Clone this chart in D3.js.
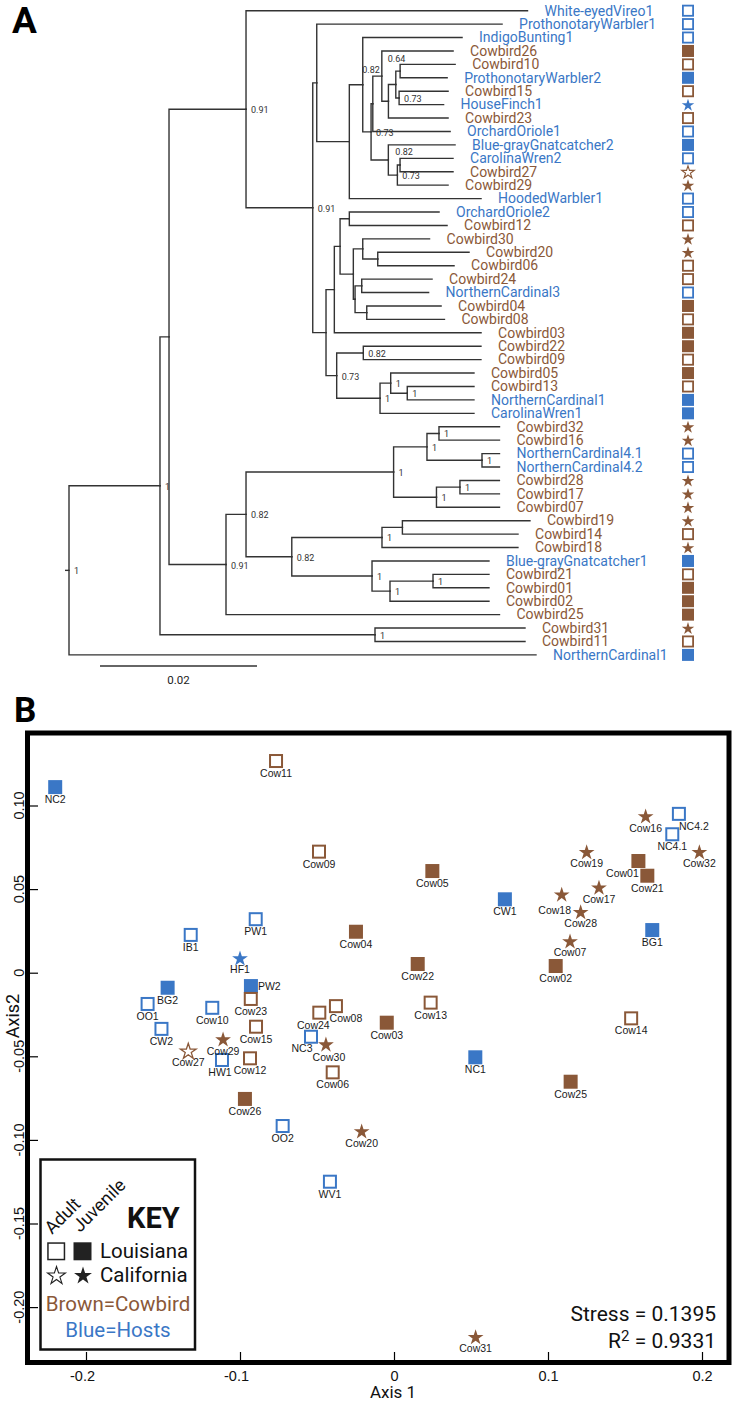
<!DOCTYPE html>
<html><head><meta charset="utf-8">
<script src="https://cdn.jsdelivr.net/npm/d3@7"></script>
<style>html,body{margin:0;padding:0;background:#fff}svg{display:block}</style>
</head><body>
<svg id="chart" width="732" height="1403"></svg>
<script>
// ---------------- DATA: Panel A (tree) ----------------
// Newick: tip names, support values (optional "~key" for label placement), branch lengths
const treeNewick = `
(
 (
  (
   (White-eyedVireo1:0.03586,
    (
     (ProthonotaryWarbler1:0.02361,
      (
       (IndigoBunting1:0.01265,
        (
         (
          (Cowbird26:0.00908,
           (
            (
             (Cowbird10:0.00701,ProthonotaryWarbler2:0.00599):0.00055,
             (Cowbird15:0.00624,HouseFinch1:0.00567)0.73:0.00042
            )0.64~a:0.00094,
            Cowbird23:0.0076
           ):0.00084
          )0.82~b:0.00115,
          OrchardOriole1:0.00985
         ):0.00022,
         (Blue-grayGnatcatcher2:0.0085,
          (
           (CarolinaWren2:0.00675,Cowbird27:0.00675):0.00034,
           Cowbird29:0.00646
          )0.73:0.00115
         )0.82~c:0.0022
        )0.73:0.00106
       ):0.00171,
       HoodedWarbler1:0.01678
      ):0.00415
     ):0.00051,
     (
      (
       (
        (OrchardOriole2:0.01143,Cowbird12:0.01245):0.00118,
        (
         (Cowbird30:0.00851,(Cowbird20:0.01163,Cowbird06:0.00972):0.00191):0.0012,
         (
          (Cowbird24:0.00896,NorthernCardinal3:0.00852):0.00085,
          (Cowbird04:0.00947,Cowbird08:0.0099):0.00149
         ):0.00022
        ):0.00169
       ):0.00073,
       Cowbird03:0.01869
      ):0.00106,
      (
       (Cowbird22:0.01499,Cowbird09:0.01499)0.82:0.00339,
       (
        (Cowbird05:0.01061,(Cowbird13:0.0085,NorthernCardinal1:0.0085)1:0.00211)1:0.00136,
        CarolinaWren1:0.01197
       )1:0.00552
      )0.73:0.00136
     ):0.00169
    )0.91:0.0085
   )0.91:0.00981,
   (
    (
     (
      (
       (Cowbird32:0.00771,Cowbird16:0.00771)1:0.00153,
       (NorthernCardinal4.1:0.00223,NorthernCardinal4.2:0.00223)1:0.00701
      )1:0.00425,
      (
       (Cowbird28:0.00503,Cowbird17:0.00503)1:0.00299,
       Cowbird07:0.00803
      )1:0.00546
     )1:0.0188,
     (
      (
       (Cowbird19:0.01625,Cowbird14:0.01473):0.0026,
       Cowbird18:0.01732
      )1:0.01149,
      (Blue-grayGnatcatcher1:0.0149,
       (
        (Cowbird21:0.00713,Cowbird01:0.00713)1:0.00548,
        Cowbird02:0.01261
       )1:0.00229
      )1:0.01022
     )0.82:0.00583
    )0.82:0.00255,
    Cowbird25:0.03484
   )0.91:0.00726
  ):0.00115,
  (Cowbird31:0.01911,Cowbird11:0.01911)1:0.02739
 )1:0.01159,
 NorthernCardinal1:0.05949
)1:0.00051;`;

// marker per tip in leaf order: o=open square, f=filled square, s=open star, S=filled star
const tipMarkers = ['o','o','o','f','o','f','o','S','o','o',
                    'f','o','s','S','o','o','o','S','S','o',
                    'o','o','f','o','f','f','o','f','o','f',
                    'f','S','S','o','o','S','S','S','S','o',
                    'S','f','o','f','f','f','S','o','f'];
const scaleBarValue = 0.02;

// ---------------- DATA: Panel B (NMDS) ----------------
const ptNames = ['NC2','Cow11','Cow09','PW1','IB1','Cow04','HF1','PW2','BG2','OO1',
  'Cow10','Cow23','CW2','Cow15','Cow24','Cow08','Cow29','Cow27','HW1','Cow12',
  'NC3','Cow30','Cow06','Cow03','Cow13','Cow26','OO2','Cow20','WV1','NC1',
  'Cow25','Cow31','Cow14','Cow02','Cow22','Cow05','CW1','Cow18','Cow28','Cow17',
  'Cow07','Cow19','Cow01','Cow21','BG1','Cow16','NC4.2','NC4.1','Cow32'];
const ptAxis1 = [-0.220,-0.0766,-0.0487,-0.0898,-0.132,-0.0247,-0.100,-0.0929,-0.147,-0.160,
  -0.118,-0.093,-0.151,-0.0896,-0.0485,-0.0377,-0.111,-0.1336,-0.1117,-0.0935,
  -0.0539,-0.0442,-0.0398,-0.0047,0.0238,-0.0968,-0.0723,-0.021,-0.0416,0.0528,
  0.1147,0.053,0.154,0.105,0.0154,0.0249,0.072,0.1089,0.1212,0.1331,
  0.1143,0.1251,0.1587,0.1645,0.1677,0.1634,0.185,0.1807,0.1983];
const ptAxis2 = [0.111,0.1266,0.0724,0.032,0.0226,0.0245,0.0088,-0.008,-0.009,-0.0187,
  -0.021,-0.0157,-0.0336,-0.0323,-0.0239,-0.020,-0.0397,-0.0467,-0.0522,-0.0512,
  -0.0383,-0.0427,-0.0596,-0.0299,-0.0179,-0.0755,-0.0917,-0.0947,-0.125,-0.0506,
  -0.0652,-0.2177,-0.0273,0.004,0.0052,0.0608,0.0439,0.047,0.0365,0.0511,
  0.019,0.0724,0.0668,0.058,0.0255,0.0937,0.095,0.0828,0.0724];
// 1 = host (blue), 0 = cowbird (brown)
const ptHost = [1,0,0,1,1,0,1,1,1,1,
  1,0,1,0,0,0,0,0,1,0,
  1,0,0,0,0,0,1,0,1,1,
  0,0,0,0,0,0,1,0,0,0,
  0,0,0,0,1,0,1,1,0];
const ptMarker = ['f','o','o','o','o','f','S','f','f','o',
  'o','o','o','o','o','o','S','s','o','o',
  'o','S','o','f','o','f','o','S','o','f',
  'f','S','o','f','f','f','f','S','S','S',
  'S','S','f','f','f','S','o','o','S'];
const xTicks = [-0.2,-0.1,0,0.1,0.2];
const yTicks = [0.10,0.05,0,-0.05,-0.10,-0.15,-0.20];
const stressText = "Stress = 0.1395";
const r2Value = "0.9331";

// ---------------- helpers ----------------
const BROWN = "#8a5838", BLUE = "#3a77c6";
const TXT = "Roboto, 'Open Sans', sans-serif";
const ARIAL = "'Liberation Sans', Arial, sans-serif";

function parseNewick(str) {
  const s = str.replace(/\s+/g, "");
  let i = 0;
  function node() {
    const n = {};
    if (s[i] === "(") {
      i++; n.children = [];
      n.children.push(node());
      while (s[i] === ",") { i++; n.children.push(node()); }
      i++;
    }
    let lab = "";
    while (i < s.length && !",():;".includes(s[i])) lab += s[i++];
    n.label = lab;
    n.len = 0;
    if (s[i] === ":") {
      i++; let num = "";
      while (i < s.length && !",();".includes(s[i])) num += s[i++];
      n.len = +num;
    }
    return n;
  }
  return node();
}

function marker(g, type, cx, cy, color, sq, sw, starR, starSw) {
  if (type === "o") {
    g.append("rect").attr("x", cx - (sq - sw) / 2).attr("y", cy - (sq - sw) / 2)
      .attr("width", sq - sw).attr("height", sq - sw)
      .attr("fill", "#fff").attr("stroke", color).attr("stroke-width", sw);
  } else if (type === "f") {
    g.append("rect").attr("x", cx - sq / 2).attr("y", cy - sq / 2)
      .attr("width", sq).attr("height", sq).attr("fill", color);
  } else {
    const p = d3.symbol(d3.symbolStar, starR * starR / 0.8908)();
    const el = g.append("path").attr("d", p)
      .attr("transform", `translate(${cx},${cy + starR * 0.1})`);
    if (type === "S") el.attr("fill", color);
    else el.attr("fill", "#fff").attr("stroke", color).attr("stroke-width", starSw);
  }
}

const svg = d3.select("#chart");
svg.append("rect").attr("width", 732).attr("height", 1403).attr("fill", "#fff");

// ================= PANEL A =================
const gA = svg.append("g");
gA.append("text").attr("x", 12).attr("y", 33).text("A")
  .attr("font-family", TXT).attr("font-weight", "bold").attr("font-size", 37).attr("fill", "#000");

const root = d3.hierarchy(parseNewick(treeNewick));
root.eachBefore(d => { d.dist = (d.parent ? d.parent.dist : 0) + d.data.len; });
const leaves = root.leaves();
const xT = d3.scaleLinear().domain([0, scaleBarValue]).range([65, 222]);
const yT = d3.scaleLinear().domain([0, leaves.length - 1]).range([10.7, 654.9]);
leaves.forEach((d, i) => { d.yy = yT(i); });
root.eachAfter(d => {
  if (d.children) d.yy = (d.children[0].yy + d.children[d.children.length - 1].yy) / 2;
});

const lineCol = "#333";
gA.append("path").attr("d", `M${xT(0)},${root.yy}H${xT(root.dist)}`)
  .attr("stroke", lineCol).attr("stroke-width", 1.4).attr("fill", "none");
gA.selectAll("path.br").data(root.descendants().slice(1)).join("path")
  .attr("class", "br")
  .attr("d", d => `M${xT(d.parent.dist)},${d.parent.yy}V${d.yy}H${xT(d.dist)}`)
  .attr("stroke", lineCol).attr("stroke-width", 1.4).attr("fill", "none")
  .attr("stroke-linecap", "square");

// support labels
const nudge = { a: [-8, -23, "start"], b: [-2, -3, "end"], c: [7, -5, "start"] };
const internal = root.descendants().filter(d => d.children && d.data.label);
gA.selectAll("text.sup").data(internal).join("text").attr("class", "sup")
  .each(function (d) {
    const [val, key] = d.data.label.split("~");
    const nd = key ? nudge[key] : [5, 4, "start"];
    d3.select(this).attr("x", xT(d.dist) + nd[0]).attr("y", d.yy + nd[1])
      .attr("text-anchor", nd[2]).text(val);
  })
  .attr("font-family", TXT).attr("font-size", 9).attr("fill", "#333");

// tip labels
gA.selectAll("text.tip").data(leaves).join("text").attr("class", "tip")
  .attr("x", d => xT(d.dist) + 17).attr("y", d => d.yy + 4.8)
  .text(d => d.data.label)
  .attr("fill", d => d.data.label.startsWith("Cowbird") ? BROWN : BLUE)
  .attr("font-family", TXT).attr("font-size", 14);

// tip markers
leaves.forEach((d, i) => {
  marker(gA, tipMarkers[i], 688, d.yy, d.data.label.startsWith("Cowbird") ? BROWN : BLUE, 12, 1.8, 6.6, 1.1);
});

// scale bar
const sbX0 = 100;
gA.append("path").attr("d", `M${sbX0},666H${sbX0 + xT(scaleBarValue) - xT(0)}`)
  .attr("stroke", lineCol).attr("stroke-width", 1.3);
gA.append("text").attr("x", sbX0 + (xT(scaleBarValue) - xT(0)) / 2).attr("y", 684)
  .attr("text-anchor", "middle").text(scaleBarValue)
  .attr("font-family", TXT).attr("font-size", 11.5).attr("fill", "#222");

// ================= PANEL B =================
const gB = svg.append("g");
gB.append("text").attr("x", 14).attr("y", 722).text("B")
  .attr("font-family", TXT).attr("font-weight", "bold").attr("font-size", 35).attr("fill", "#000");

const x = d3.scaleLinear().domain([-0.2, 0.2]).range([86, 702]);
const y = d3.scaleLinear().domain([-0.2, 0.1]).range([1307.1, 805.5]);
const frame = { l: 27.5, t: 733, r: 729, b: 1362.5, w: 5 };

const xAxis = d3.axisBottom(x).tickValues(xTicks).tickSize(-8).tickPadding(11)
  .tickFormat(v => (v < 0 ? "-" : "") + (v === 0 ? "0" : Math.abs(v).toFixed(1)));
const gx = gB.append("g").attr("transform", `translate(0,${frame.b - frame.w / 2})`).call(xAxis);
gx.select(".domain").remove();
gx.selectAll(".tick line").attr("stroke", "#000").attr("stroke-width", 1.2);
gx.selectAll(".tick text").attr("font-family", ARIAL).attr("font-size", 14.5).attr("fill", "#111")
  .attr("dx", v => v < 0 ? -4 : 0);

const yAxis = d3.axisLeft(y).tickValues(yTicks).tickSize(-8).tickFormat("");
const gy = gB.append("g").attr("transform", `translate(${frame.l + frame.w / 2},0)`).call(yAxis);
gy.select(".domain").remove();
gy.selectAll(".tick line").attr("stroke", "#000").attr("stroke-width", 1.2);
gB.selectAll("text.ylab").data(yTicks).join("text").attr("class", "ylab")
  .attr("transform", v => `translate(24,${y(v)}) rotate(-90)`)
  .attr("text-anchor", "middle")
  .text(v => v === 0 ? "0" : (v < 0 ? "-" : "") + Math.abs(v).toFixed(2))
  .attr("font-family", ARIAL).attr("font-size", 14.5).attr("fill", "#111");

gB.append("text").attr("x", 393).attr("y", 1398).attr("text-anchor", "middle").text("Axis 1")
  .attr("font-family", TXT).attr("font-size", 17).attr("fill", "#111");
gB.append("text").attr("transform", "translate(18.5,1016) rotate(-90)").attr("text-anchor", "middle")
  .text("Axis2").attr("font-family", TXT).attr("font-size", 18).attr("fill", "#111");

// legend
const gL = gB.append("g");
gL.append("rect").attr("x", 40.5).attr("y", 1159.5).attr("width", 154.5).attr("height", 190)
  .attr("fill", "#fff").attr("stroke", "#111").attr("stroke-width", 2.5);
gL.append("text").attr("transform", "translate(52,1235) rotate(-45)").text("Adult")
  .attr("font-family", TXT).attr("font-size", 18).attr("fill", "#111");
gL.append("text").attr("transform", "translate(80,1233) rotate(-45)").text("Juvenile")
  .attr("font-family", TXT).attr("font-size", 18).attr("fill", "#111");
gL.append("text").attr("x", 127).attr("y", 1228).text("KEY")
  .attr("font-family", TXT).attr("font-weight", "bold").attr("font-size", 29).attr("fill", "#111");
marker(gL, "o", 56.2, 1251.3, "#222", 18, 1.5, 9, 1.2);
marker(gL, "f", 82.5, 1251.3, "#222", 18, 1.5, 9, 1.2);
marker(gL, "s", 56.5, 1275, "#222", 18, 1.5, 9.4, 1.1);
marker(gL, "S", 83, 1275, "#222", 18, 1.5, 9.4, 1.1);
gL.append("text").attr("x", 100).attr("y", 1258).text("Louisiana")
  .attr("font-family", TXT).attr("font-size", 20.5).attr("fill", "#111");
gL.append("text").attr("x", 100).attr("y", 1282).text("California")
  .attr("font-family", TXT).attr("font-size", 20.5).attr("fill", "#111");
gL.append("text").attr("x", 118).attr("y", 1311).attr("text-anchor", "middle").text("Brown=Cowbird")
  .attr("font-family", TXT).attr("font-size", 20.5).attr("fill", BROWN);
gL.append("text").attr("x", 118).attr("y", 1337).attr("text-anchor", "middle").text("Blue=Hosts")
  .attr("font-family", TXT).attr("font-size", 20.5).attr("fill", BLUE);

// stress / R2
gB.append("text").attr("x", 716).attr("y", 1321).attr("text-anchor", "end").text(stressText)
  .attr("font-family", TXT).attr("font-size", 21).attr("fill", "#111");
const r2 = gB.append("text").attr("x", 716).attr("y", 1348).attr("text-anchor", "end")
  .attr("font-family", TXT).attr("font-size", 21).attr("fill", "#111");
r2.append("tspan").text("R");
r2.append("tspan").attr("dy", -7).attr("font-size", 15).text("2");
r2.append("tspan").attr("dy", 7).text(" = " + r2Value);

// points + labels
const labelNudge = {
  PW2: [7, 4, "start"], Cow24: [-6, 0], Cow08: [10, 0], HW1: [-2, 0], NC3: [-9, -1],
  Cow30: [3, 1], Cow18: [-7, 4], Cow01: [-16, 0], "NC4.2": [15, 0]
};
const gP = gB.append("g");
ptNames.forEach((nm, i) => {
  marker(gP, ptMarker[i], x(ptAxis1[i]), y(ptAxis2[i]), ptHost[i] ? BLUE : BROWN, 14, 2, 8.3, 1.3);
});
ptNames.forEach((nm, i) => {
  const cx = x(ptAxis1[i]), cy = y(ptAxis2[i]);
  const nd = labelNudge[nm] || [0, 0, "middle"];
  const base = (ptMarker[i] === "s" || ptMarker[i] === "S") ? 15.5 : 16;
  gP.append("text").attr("x", cx + nd[0]).attr("y", cy + base + nd[1] - (nd[2] === "start" ? 16 : 0))
    .attr("text-anchor", nd[2] || "middle").text(nm)
    .attr("font-family", ARIAL).attr("font-size", 10.5).attr("fill", "#1a1a1a");
});

// frame
gB.append("rect").attr("x", frame.l).attr("y", frame.t)
  .attr("width", frame.r - frame.l).attr("height", frame.b - frame.t)
  .attr("fill", "none").attr("stroke", "#000").attr("stroke-width", frame.w);
</script>
</body></html>
